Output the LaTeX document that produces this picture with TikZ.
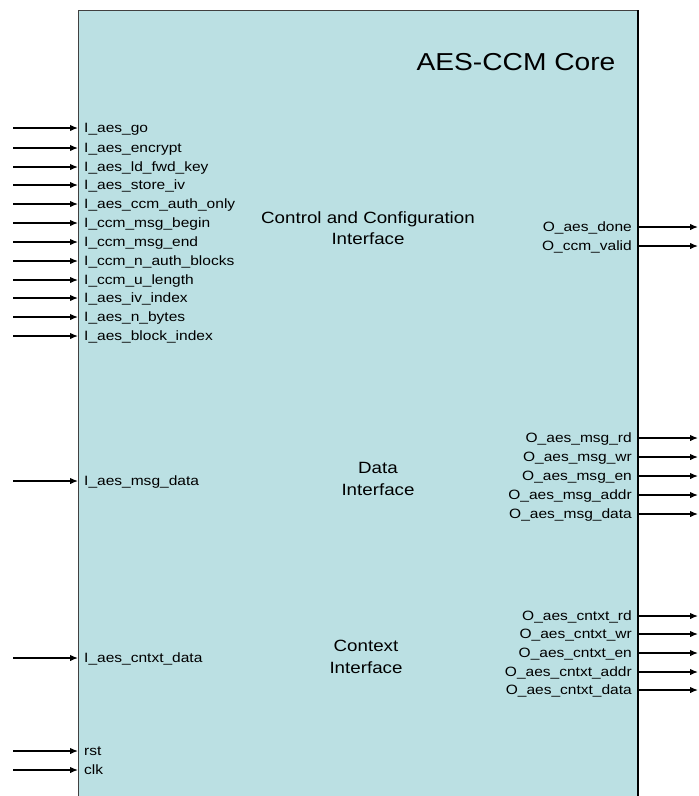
\documentclass[tikz,border=0pt]{standalone}
\usepackage{fontspec}
\setmainfont[FakeStretch=1.15]{Liberation Sans}
\usetikzlibrary{positioning, arrows.meta}
\definecolor{corefill}{HTML}{BBE0E3}

\begin{document}
\begin{tikzpicture}[>={Latex[length=8pt,width=6.5pt]}, x=1pt, y=-1pt,
    pin/.style={font=\fontsize{13.5}{15}\selectfont, inner xsep=6pt, inner ysep=2pt, text height=9.5pt, text depth=0pt},
    sig/.style={line width=1.3pt, ->},
    part/.style={font=\fontsize{16.3}{21.5}\selectfont, align=center}]
  \useasboundingbox (0,0) rectangle (699,796);
  % the core block
  \fill [corefill] (78,10) rectangle (638,800);
  \draw [line width=1pt, black!75] (78,800) -- (78,10) -- (638,10);
  \draw [line width=1.4pt] (638,10) -- (638,800);
  \node (title) at (516,62) {\fontsize{24.5}{30}\selectfont AES-CCM Core};
  \node [part] (ctrl) at (368,228) {Control and Configuration\\Interface};
  \node [part] (data) at (378,479) {Data\\Interface};
  \node [part] (cntxt) at (366,657) {Context\\Interface};
  % inputs
  \foreach \y/\n/\txt in {128/go/aes\_go, 148/enc/aes\_encrypt, 167/key/aes\_ld\_fwd\_key,
      185/iv/aes\_store\_iv, 204/auth/aes\_ccm\_auth\_only, 223/begin/ccm\_msg\_begin,
      242/end/ccm\_msg\_end, 261/nblk/ccm\_n\_auth\_blocks, 280/ulen/ccm\_u\_length,
      298/ividx/aes\_iv\_index, 317/nbytes/aes\_n\_bytes, 336/blkidx/aes\_block\_index,
      481/msgdata/aes\_msg\_data, 658/cntxtdata/aes\_cntxt\_data} {
    \node [pin, anchor=west] (in-\n) at (78,\y) {I\_\txt};
    \coordinate (src-\n) at (13,\y);
    \draw [sig] (src-\n) -- (in-\n.west);
  }
  \foreach \y/\n in {751/rst, 770/clk} {
    \node [pin, anchor=west] (in-\n) at (78,\y) {\n};
    \coordinate (src-\n) at (13,\y);
    \draw [sig] (src-\n) -- (in-\n.west);
  }
  % outputs
  \foreach \y/\n/\txt in {227/done/aes\_done, 246/valid/ccm\_valid,
      438/msgrd/aes\_msg\_rd, 457/msgwr/aes\_msg\_wr, 476/msgen/aes\_msg\_en,
      495/msgaddr/aes\_msg\_addr, 514/msgdata/aes\_msg\_data,
      616/cxrd/aes\_cntxt\_rd, 634/cxwr/aes\_cntxt\_wr, 653/cxen/aes\_cntxt\_en,
      672/cxaddr/aes\_cntxt\_addr, 690/cxdata/aes\_cntxt\_data} {
    \node [pin, anchor=east] (out-\n) at (638,\y) {O\_\txt};
    \coordinate (dst-\n) at (698,\y);
    \draw [sig] (out-\n.east) -- (dst-\n);
  }
\end{tikzpicture}
\end{document}
